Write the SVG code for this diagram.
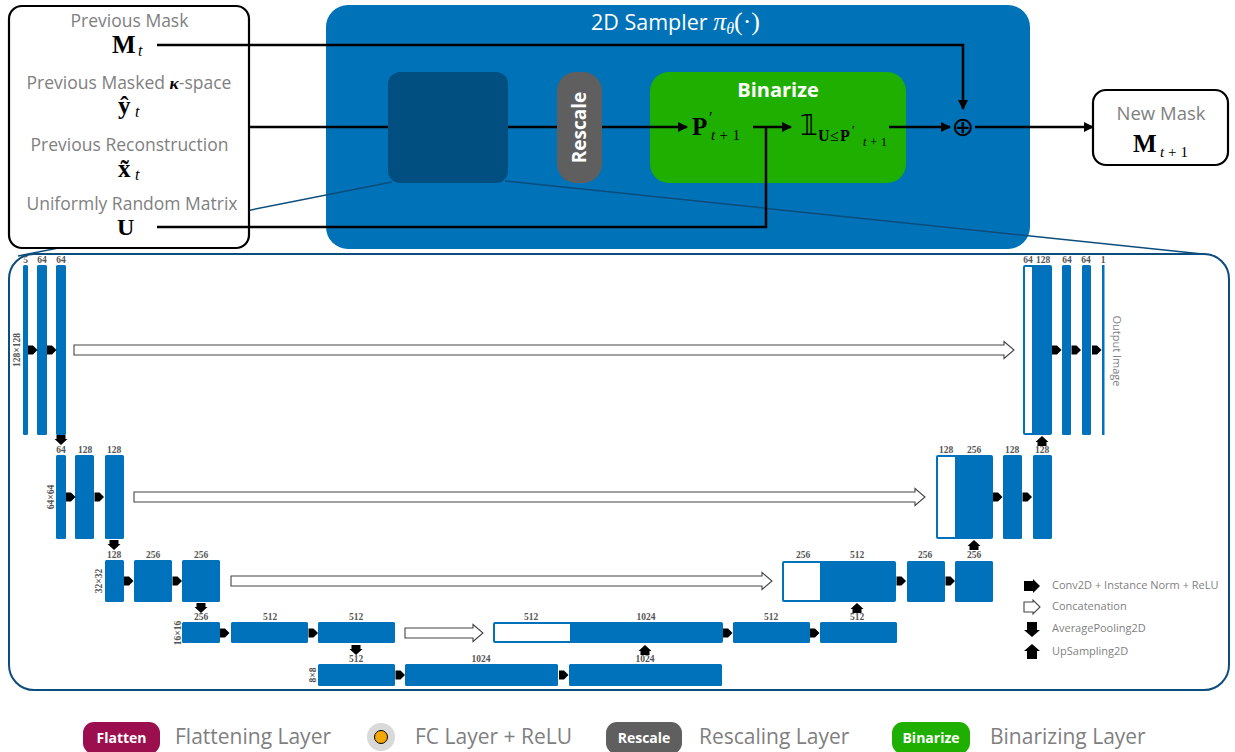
<svg xmlns="http://www.w3.org/2000/svg" width="1235" height="752" viewBox="0 0 1235 752">
<style>
.gt{font-family:"Open Sans","Liberation Sans",sans-serif;fill:#7f7f7f}
.wt{font-family:"Open Sans","Liberation Sans",sans-serif;fill:#fff;font-weight:bold}
.mb{font-family:"Liberation Serif","DejaVu Serif",serif;font-weight:bold;fill:#000}
.mi{font-family:"Liberation Serif","DejaVu Serif",serif;font-style:italic;fill:#000}
.mr{font-family:"Liberation Serif","DejaVu Serif",serif;fill:#000}
.lbl{font-family:"Liberation Serif","DejaVu Serif",serif;font-weight:bold;font-size:9.5px;fill:#555;text-anchor:middle}
.bar{fill:#0072BB}
.conn{stroke:#000;stroke-width:2.5;fill:none}
.zoom{stroke:#0b4d7c;stroke-width:1.5;fill:none}
.cat{fill:#fff;stroke:#444;stroke-width:1.1}
</style>
<defs>
<marker id="ah" markerWidth="10" markerHeight="10" refX="9" refY="5" orient="auto" markerUnits="userSpaceOnUse"><path d="M0,0 L10,5 L0,10 Z" fill="#000"/></marker>
<path id="ra" d="M0,-4.5 H5 L9.5,0 L5,4.5 H0 Z" fill="#000"/>
<path id="da" d="M-4.5,0 H4.5 V4 H6.5 L0,10 L-6.5,4 H-4.5 Z" fill="#000"/>
<path id="ua" d="M-4.5,0 H4.5 V-4 H6.5 L0,-10 L-6.5,-4 H-4.5 Z" fill="#000"/>
</defs>
<rect width="1235" height="752" fill="#fff"/>

<!-- Sampler -->
<g id="sampler">
<rect x="326" y="5" width="704" height="244" rx="22" fill="#0072B7"/>
<text x="591" y="30" font-size="21.5" fill="#fff" font-family="Open Sans,Liberation Sans,sans-serif">2D Sampler <tspan font-family="Liberation Serif,serif" font-style="italic" font-size="26">π</tspan><tspan font-family="Liberation Serif,serif" font-style="italic" font-size="16" dy="4">θ</tspan><tspan font-family="Liberation Serif,serif" font-size="26" dy="-4">(·)</tspan></text>
</g>
<g id="encoder-net"><rect x="388" y="72" width="120" height="111" rx="12" fill="#004F80"/></g>

<!-- zoom lines (drawn above sampler, under input box and U-Net box) -->
<g id="zoomlines">
<line class="zoom" x1="392" y1="182" x2="18" y2="256"/>
<line class="zoom" x1="505" y1="181" x2="1212" y2="255"/>
</g>

<!-- Input box -->
<g id="inputs">
<rect x="9" y="6" width="240" height="242" rx="13" fill="#fff" stroke="#000" stroke-width="2.2"/>
<text class="gt" x="129.5" y="27" font-size="17.5" text-anchor="middle">Previous Mask</text>
<text class="mb" x="112" y="53" font-size="25">M</text><text class="mi" x="138" y="56" font-size="16">t</text>
<text class="gt" x="129" y="89" font-size="17.5" text-anchor="middle">Previous Masked <tspan font-family="Liberation Serif,serif" font-style="italic" font-weight="bold" fill="#000">κ</tspan>-space</text>
<text class="mb" x="118" y="114" font-size="25">ŷ</text><text class="mi" x="135" y="117" font-size="16">t</text>
<text class="gt" x="129.5" y="151" font-size="17.5" text-anchor="middle">Previous Reconstruction</text>
<text class="mb" x="118" y="177" font-size="25">x̃</text><text class="mi" x="135" y="180" font-size="16">t</text>
<text class="gt" x="132" y="210" font-size="17.5" text-anchor="middle">Uniformly Random Matrix</text>
<text class="mb" x="117" y="235" font-size="24">U</text>
</g>

<g id="rescale">
<rect x="557" y="72" width="45" height="111" rx="19" fill="#5f5f5f"/>
<text class="wt" font-size="19" text-anchor="middle" transform="translate(586,127.5) rotate(-90)">Rescale</text>
</g>
<g id="binarize">
<rect x="650" y="72" width="256" height="111" rx="19" fill="#1FAF00"/>
<text class="wt" x="778" y="97" font-size="20" text-anchor="middle">Binarize</text>
<text class="mb" x="692" y="135" font-size="25">P</text>
<text class="mr" x="709" y="123" font-size="16">′</text>
<text class="mr" x="711" y="140" font-size="15" textLength="29" lengthAdjust="spacing"><tspan font-style="italic">t</tspan>+1</text>
<text x="800" y="135" font-size="28" fill="#000" font-family="DejaVu Sans,DejaVu Serif,serif">𝟙</text>
<text class="mb" x="818" y="141" font-size="16">U</text>
<text class="mr" x="830" y="141" font-size="16">≤</text>
<text class="mb" x="840" y="141" font-size="16">P</text>
<text class="mr" x="852" y="134" font-size="13">′</text>
<text class="mr" x="863" y="146" font-size="12" textLength="24" lengthAdjust="spacing"><tspan font-style="italic">t</tspan>+1</text>
</g>
<g id="oplus"><text x="963" y="136" font-size="27" text-anchor="middle" fill="#000" font-family="DejaVu Sans,sans-serif">⊕</text></g>
<g id="newmask">
<rect x="1093" y="90" width="135" height="75" rx="13" fill="#fff" stroke="#000" stroke-width="2.2"/>
<text class="gt" x="1161" y="120" font-size="18.5" text-anchor="middle">New Mask</text>
<text class="mb" x="1133" y="152" font-size="25">M</text>
<text class="mi" x="1160" y="157" font-size="15" textLength="28" lengthAdjust="spacing">t<tspan font-style="normal">+1</tspan></text>
</g>

<!-- connectors -->
<g id="connectors">
<polyline class="conn" points="157,45 963,45 963,109" marker-end="url(#ah)"/>
<line class="conn" x1="249" y1="127" x2="388" y2="127"/>
<line class="conn" x1="508" y1="127" x2="557" y2="127"/>
<line class="conn" x1="602" y1="127" x2="687" y2="127" marker-end="url(#ah)"/>
<polyline class="conn" points="157,227 766,227 766,127"/>
<line class="conn" x1="753" y1="127" x2="791" y2="127" marker-end="url(#ah)"/>
<line class="conn" x1="889" y1="127" x2="950" y2="127" marker-end="url(#ah)"/>
<line class="conn" x1="975" y1="127" x2="1093" y2="127" marker-end="url(#ah)"/>
</g>

<!-- U-Net -->
<g id="unet">
<rect x="9" y="254" width="1220" height="436" rx="25" fill="#fff" stroke="#0b4d7c" stroke-width="2"/>
</g>

<g id="unet-row1">
<rect class="bar" x="23" y="265" width="5" height="170" rx="1.5"/>
<rect class="bar" x="37" y="265" width="10" height="170" rx="1.5"/>
<rect class="bar" x="56" y="265" width="10" height="170" rx="1.5"/>
<text class="lbl" x="25.5" y="263">5</text><text class="lbl" x="42" y="263">64</text><text class="lbl" x="61" y="263">64</text>
<text class="lbl" transform="translate(20,350) rotate(-90)">128×128</text>
<use href="#ra" x="28" y="350"/><use href="#ra" x="47" y="350"/>
<use href="#da" x="61" y="435"/>
<path class="cat" d="M74,345 H1004 V341.5 L1014,350 L1004,358.5 V355 H74 Z"/>
<rect class="bar" x="1023" y="265" width="29" height="170" rx="2"/>
<rect x="1025" y="267" width="7" height="166" fill="#fff"/>
<rect class="bar" x="1062" y="265" width="9" height="170" rx="1.5"/>
<rect class="bar" x="1082" y="265" width="9" height="170" rx="1.5"/>
<rect class="bar" x="1102" y="265" width="2.5" height="170"/>
<text class="lbl" x="1028" y="263">64</text><text class="lbl" x="1043" y="263">128</text><text class="lbl" x="1067" y="263">64</text><text class="lbl" x="1086" y="263">64</text><text class="lbl" x="1103" y="263">1</text>
<use href="#ra" x="1052" y="350"/><use href="#ra" x="1071.5" y="350"/><use href="#ra" x="1092" y="350"/>
<use href="#ua" x="1042" y="446"/>
<text class="gt" font-size="11" text-anchor="middle" transform="translate(1113,351) rotate(90)">Output Image</text>
</g>

<g id="unet-row2">
<rect class="bar" x="56" y="455" width="10" height="84" rx="1.5"/>
<rect class="bar" x="75" y="455" width="19" height="84" rx="1.5"/>
<rect class="bar" x="105" y="455" width="19" height="84" rx="1.5"/>
<text class="lbl" x="61" y="453">64</text><text class="lbl" x="85" y="453">128</text><text class="lbl" x="114" y="453">128</text>
<text class="lbl" transform="translate(54,497) rotate(-90)">64×64</text>
<use href="#ra" x="66" y="497"/><use href="#ra" x="94.5" y="497"/>
<use href="#da" x="114" y="540"/>
<path class="cat" d="M134,492 H915 V488.5 L925,497 L915,505.5 V502 H134 Z"/>
<rect class="bar" x="936" y="455" width="57" height="84" rx="2"/>
<rect x="938" y="457" width="17" height="80" fill="#fff"/>
<rect class="bar" x="1003" y="455" width="19" height="84" rx="1.5"/>
<rect class="bar" x="1033" y="455" width="19" height="84" rx="1.5"/>
<text class="lbl" x="946" y="453">128</text><text class="lbl" x="974" y="453">256</text><text class="lbl" x="1012" y="453">128</text><text class="lbl" x="1042" y="453">128</text>
<use href="#ra" x="993" y="497"/><use href="#ra" x="1022.5" y="497"/>
<use href="#ua" x="974" y="550"/>
</g>

<g id="unet-row3">
<rect class="bar" x="105" y="560" width="19" height="42" rx="1.5"/>
<rect class="bar" x="134" y="560" width="38" height="42" rx="1.5"/>
<rect class="bar" x="182" y="560" width="38" height="42" rx="1.5"/>
<text class="lbl" x="114" y="558">128</text><text class="lbl" x="153" y="558">256</text><text class="lbl" x="201" y="558">256</text>
<text class="lbl" transform="translate(102,581) rotate(-90)">32×32</text>
<use href="#ra" x="124" y="581"/><use href="#ra" x="172.5" y="581"/>
<use href="#da" x="201" y="603"/>
<path class="cat" d="M231,576 H762 V572.5 L772,581 L762,589.5 V586 H231 Z"/>
<rect class="bar" x="782" y="561" width="114" height="41" rx="2"/>
<rect x="784" y="563" width="36" height="37" fill="#fff"/>
<rect class="bar" x="907" y="561" width="38" height="41" rx="1.5"/>
<rect class="bar" x="955" y="561" width="38" height="41" rx="1.5"/>
<text class="lbl" x="803" y="558">256</text><text class="lbl" x="857" y="558">512</text><text class="lbl" x="925" y="558">256</text><text class="lbl" x="974" y="558">256</text>
<use href="#ra" x="896.5" y="581"/><use href="#ra" x="945.5" y="581"/>
<use href="#ua" x="857" y="613"/>
</g>

<g id="unet-row4">
<rect class="bar" x="182" y="622" width="38" height="21" rx="1.5"/>
<rect class="bar" x="231" y="622" width="77" height="21" rx="1.5"/>
<rect class="bar" x="318" y="622" width="77" height="21" rx="1.5"/>
<text class="lbl" x="201" y="620">256</text><text class="lbl" x="270" y="620">512</text><text class="lbl" x="356" y="620">512</text>
<text class="lbl" transform="translate(181,633) rotate(-90)">16×16</text>
<use href="#ra" x="220" y="633"/><use href="#ra" x="308.5" y="633"/>
<use href="#da" x="356" y="645"/>
<path class="cat" d="M405,628 H473 V624.5 L483,633 L473,641.5 V638 H405 Z"/>
<rect class="bar" x="493" y="622" width="230" height="21" rx="2"/>
<rect x="495" y="624" width="75" height="17" fill="#fff"/>
<rect class="bar" x="733" y="622" width="77" height="21" rx="1.5"/>
<rect class="bar" x="820" y="622" width="77" height="21" rx="1.5"/>
<text class="lbl" x="531" y="620">512</text><text class="lbl" x="646" y="620">1024</text><text class="lbl" x="771" y="620">512</text><text class="lbl" x="857" y="620">512</text>
<use href="#ra" x="723" y="633"/><use href="#ra" x="810" y="633"/>
<use href="#ua" x="645" y="655"/>
</g>

<g id="unet-row5">
<rect class="bar" x="318" y="664" width="77" height="22" rx="1.5"/>
<rect class="bar" x="405" y="664" width="153" height="22" rx="1.5"/>
<rect class="bar" x="569" y="664" width="153" height="22" rx="1.5"/>
<text class="lbl" x="356" y="662">512</text><text class="lbl" x="481" y="662">1024</text><text class="lbl" x="645" y="662">1024</text>
<text class="lbl" transform="translate(316,675) rotate(-90)">8×8</text>
<use href="#ra" x="395.5" y="675"/><use href="#ra" x="559" y="675"/>
</g>

<g id="unet-legend">
<path d="M1024,581 H1033 V579 L1040,586 L1033,593 V591 H1024 Z" fill="#000"/>
<text class="gt" x="1052" y="589" font-size="11">Conv2D + Instance Norm + ReLU</text>
<path class="cat" d="M1024,602 H1033 V600 L1040,607 L1033,614 V612 H1024 Z"/>
<text class="gt" x="1052" y="610" font-size="11">Concatenation</text>
<path d="M1027,622 H1037 V630 H1040 L1032,637 L1024,630 H1027 Z" fill="#000"/>
<text class="gt" x="1052" y="632" font-size="11">AveragePooling2D</text>
<path d="M1027,659 H1037 V651 H1040 L1032,644 L1024,651 H1027 Z" fill="#000"/>
<text class="gt" x="1052" y="655" font-size="11">UpSampling2D</text>
</g>

<!-- bottom legend -->
<g id="legend-flatten">
<rect x="83" y="722" width="77" height="32" rx="11" fill="#9B0F4E"/>
<text class="wt" x="121.5" y="743" font-size="14" text-anchor="middle">Flatten</text>
<text class="gt" x="175" y="744" font-size="21">Flattening Layer</text>
</g>
<g id="legend-fc">
<circle cx="381" cy="737" r="14" fill="#d9d9d9"/>
<circle cx="381" cy="737" r="6.5" fill="#F5A800" stroke="#000" stroke-width="1"/>
<text class="gt" x="415" y="744" font-size="21">FC Layer + ReLU</text>
</g>
<g id="legend-rescale">
<rect x="606" y="722" width="76" height="32" rx="11" fill="#5f5f5f"/>
<text class="wt" x="644" y="743" font-size="14" text-anchor="middle">Rescale</text>
<text class="gt" x="699" y="744" font-size="21">Rescaling Layer</text>
</g>
<g id="legend-binarize">
<rect x="892" y="722" width="78" height="32" rx="11" fill="#1FAF00"/>
<text class="wt" x="931" y="743" font-size="14" text-anchor="middle">Binarize</text>
<text class="gt" x="990" y="744" font-size="21">Binarizing Layer</text>
</g>
</svg>
